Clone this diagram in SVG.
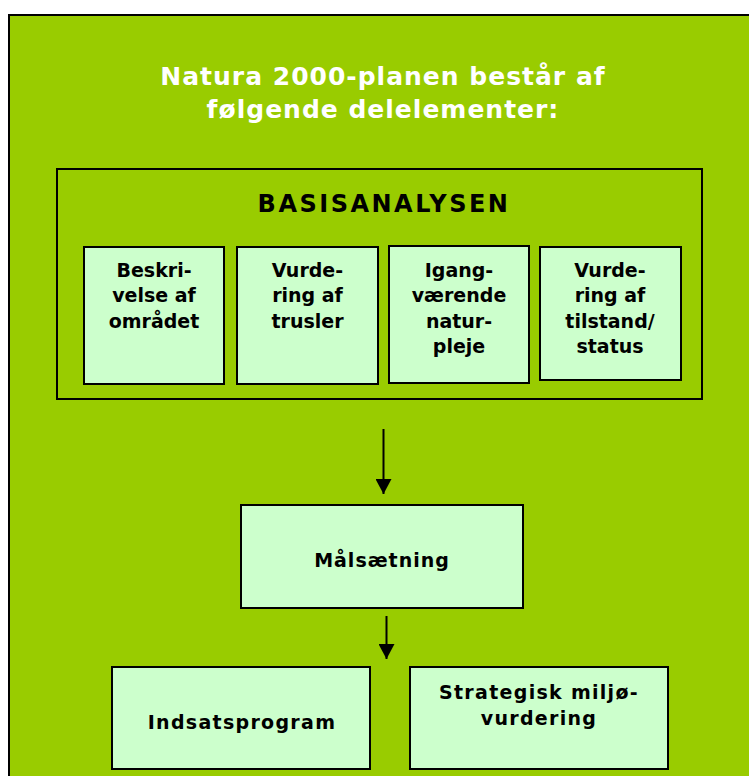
<svg xmlns="http://www.w3.org/2000/svg" width="749" height="776" viewBox="0 0 749 776">
<defs>
<marker id="ah" markerWidth="15" markerHeight="16" refX="15" refY="8" orient="auto" markerUnits="userSpaceOnUse" viewBox="0 0 15 16">
<path d="M0,0 L15,8 L0,16 Z" fill="#000"/>
</marker>
</defs>
<style>
.t{font-family:"DejaVu Sans","Verdana",sans-serif;font-weight:bold;text-anchor:middle;fill:#000}
.box{fill:#CCFFCC;stroke:#000;stroke-width:2}
.ttl{font-family:"DejaVu Sans","Verdana",sans-serif;font-weight:bold;text-anchor:middle;fill:#fff;font-size:25px;letter-spacing:1px}
.s{font-size:19px}
.w{letter-spacing:1.3px}
</style>
<rect x="0" y="0" width="749" height="776" fill="#fff"/>
<rect id="frame" x="9" y="15" width="770" height="790" fill="#99CC00" stroke="#000" stroke-width="2"/>
<g id="title">
<text class="ttl" x="383" y="85">Natura 2000-planen består af</text>
<text class="ttl" x="383" y="118">følgende delelementer:</text>
</g>
<g id="basisanalysen">
<rect x="57" y="169" width="645" height="230" fill="none" stroke="#000" stroke-width="2"/>
<text class="t" x="384" y="212" font-size="24" letter-spacing="2.5">BASISANALYSEN</text>
</g>
<g id="beskrivelse">
<rect class="box" x="84" y="247" width="140" height="137"/>
<text class="t s" x="154" y="277">Beskri-</text>
<text class="t s" x="154" y="302">velse af</text>
<text class="t s" x="154" y="328">området</text>
</g>
<g id="trusler">
<rect class="box" x="237" y="247" width="141" height="137"/>
<text class="t s" x="307.5" y="277">Vurde-</text>
<text class="t s" x="307.5" y="302">ring af</text>
<text class="t s" x="307.5" y="328">trusler</text>
</g>
<g id="naturpleje">
<rect class="box" x="389" y="246" width="140" height="137"/>
<text class="t s" x="459" y="277">Igang-</text>
<text class="t s" x="459" y="302">værende</text>
<text class="t s" x="459" y="328">natur-</text>
<text class="t s" x="459" y="353">pleje</text>
</g>
<g id="tilstand">
<rect class="box" x="540" y="247" width="141" height="133"/>
<text class="t s" x="610" y="277">Vurde-</text>
<text class="t s" x="610" y="302">ring af</text>
<text class="t s" x="610" y="328">tilstand/</text>
<text class="t s" x="610" y="353">status</text>
</g>
<g id="maalsaetning">
<rect class="box" x="241" y="505" width="282" height="103"/>
<text class="t s" x="382" y="567" letter-spacing="1">Målsætning</text>
</g>
<g id="indsatsprogram">
<rect class="box" x="112" y="667" width="258" height="102"/>
<text class="t s w" x="242" y="729">Indsatsprogram</text>
</g>
<g id="miljoevurdering">
<rect class="box" x="410" y="667" width="258" height="102"/>
<text class="t s w" x="539" y="699">Strategisk miljø-</text>
<text class="t s w" x="539" y="725">vurdering</text>
</g>
<g id="connectors" stroke="#000" stroke-width="2" fill="none">
<line x1="383.5" y1="429" x2="383.5" y2="494" marker-end="url(#ah)"/>
<line x1="386.5" y1="616" x2="386.5" y2="659" marker-end="url(#ah)"/>
</g>
</svg>
